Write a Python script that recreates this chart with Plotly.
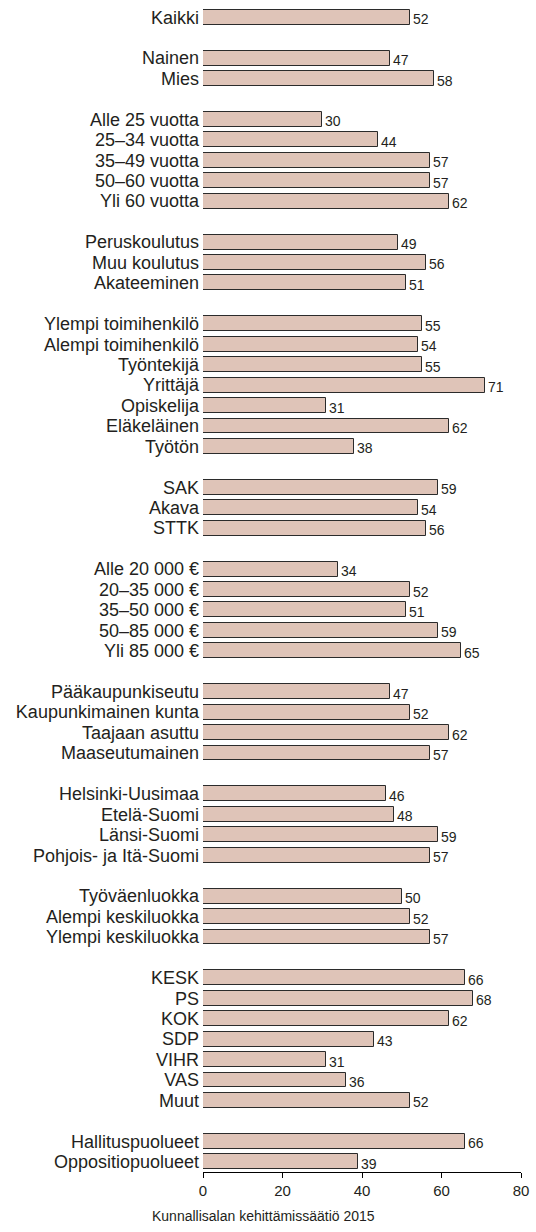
import plotly.graph_objects as go

# Respondent groups (label lists) and their shares, in percent
kaikki_labels = ["Kaikki"]
kaikki_values = [52]

sukupuoli_labels = ["Nainen", "Mies"]
sukupuoli_values = [47, 58]

ika_labels = ["Alle 25 vuotta", "25–34 vuotta", "35–49 vuotta", "50–60 vuotta", "Yli 60 vuotta"]
ika_values = [30, 44, 57, 57, 62]

koulutus_labels = ["Peruskoulutus", "Muu koulutus", "Akateeminen"]
koulutus_values = [49, 56, 51]

ammatti_labels = ["Ylempi toimihenkilö", "Alempi toimihenkilö", "Työntekijä", "Yrittäjä",
                  "Opiskelija", "Eläkeläinen", "Työtön"]
ammatti_values = [55, 54, 55, 71, 31, 62, 38]

liitto_labels = ["SAK", "Akava", "STTK"]
liitto_values = [59, 54, 56]

tulot_labels = ["Alle 20 000 €", "20–35 000 €", "35–50 000 €", "50–85 000 €", "Yli 85 000 €"]
tulot_values = [34, 52, 51, 59, 65]

asuinalue_labels = ["Pääkaupunkiseutu", "Kaupunkimainen kunta", "Taajaan asuttu", "Maaseutumainen"]
asuinalue_values = [47, 52, 62, 57]

alue_labels = ["Helsinki-Uusimaa", "Etelä-Suomi", "Länsi-Suomi", "Pohjois- ja Itä-Suomi"]
alue_values = [46, 48, 59, 57]

luokka_labels = ["Työväenluokka", "Alempi keskiluokka", "Ylempi keskiluokka"]
luokka_values = [50, 52, 57]

puolue_labels = ["KESK", "PS", "KOK", "SDP", "VIHR", "VAS", "Muut"]
puolue_values = [66, 68, 62, 43, 31, 36, 52]

hallitus_labels = ["Hallituspuolueet", "Oppositiopuolueet"]
hallitus_values = [66, 39]

x_ticks = [0, 20, 40, 60, 80]
source_text = "Kunnallisalan kehittämissäätiö 2015"

groups = [
    (kaikki_labels, kaikki_values),
    (sukupuoli_labels, sukupuoli_values),
    (ika_labels, ika_values),
    (koulutus_labels, koulutus_values),
    (ammatti_labels, ammatti_values),
    (liitto_labels, liitto_values),
    (tulot_labels, tulot_values),
    (asuinalue_labels, asuinalue_values),
    (alue_labels, alue_values),
    (luokka_labels, luokka_values),
    (puolue_labels, puolue_values),
    (hallitus_labels, hallitus_values),
]

# One row slot per bar, with an empty slot between groups
labels, values, rows = [], [], []
slot = 0
for i, (labs, vals) in enumerate(groups):
    if i > 0:
        slot += 1
    for lab, val in zip(labs, vals):
        labels.append(lab)
        values.append(val)
        rows.append(slot)
        slot += 1
n_slots = slot

TEXT = "#231f20"
FONT = "Liberation Sans, Arial, sans-serif"

fig = go.Figure(
    go.Bar(
        x=values,
        y=rows,
        orientation="h",
        width=0.73,
        marker=dict(color="#dfc4b8", line=dict(color="#2b2b2b", width=1)),
        hoverinfo="skip",
    )
)

# Value labels just past the end of each bar
for v, r in zip(values, rows):
    fig.add_annotation(
        x=v,
        y=r,
        text=str(v),
        xanchor="left",
        yanchor="middle",
        xshift=1,
        yshift=-2,
        showarrow=False,
        font=dict(size=14, color=TEXT, family=FONT),
    )

fig.update_layout(
    width=536,
    height=1232,
    margin=dict(l=203, r=10, t=7, b=60, pad=0),
    paper_bgcolor="white",
    plot_bgcolor="white",
    showlegend=False,
    font=dict(family=FONT, color=TEXT),
    bargap=0,
)

fig.update_xaxes(
    range=[0, 80],
    tickvals=x_ticks,
    ticktext=[str(t) for t in x_ticks],
    showgrid=False,
    zeroline=False,
    showline=True,
    linecolor="#000000",
    linewidth=1,
    ticks="outside",
    ticklen=5,
    tickcolor="#000000",
    tickfont=dict(size=15, color=TEXT),
)

fig.update_yaxes(
    range=[n_slots - 0.5, -0.5],
    tickvals=rows,
    ticktext=labels,
    showgrid=False,
    zeroline=False,
    showline=False,
    ticks="",
    tickfont=dict(size=18, color=TEXT),
    ticklabelstandoff=3,
)

fig.add_annotation(
    text=source_text,
    xref="paper",
    yref="paper",
    x=(149 - 203) / 323,
    y=-(1216 - 1172) / 1165,
    xanchor="left",
    yanchor="middle",
    showarrow=False,
    font=dict(size=14, color=TEXT, family=FONT),
)

fig.write_html("out.html")
